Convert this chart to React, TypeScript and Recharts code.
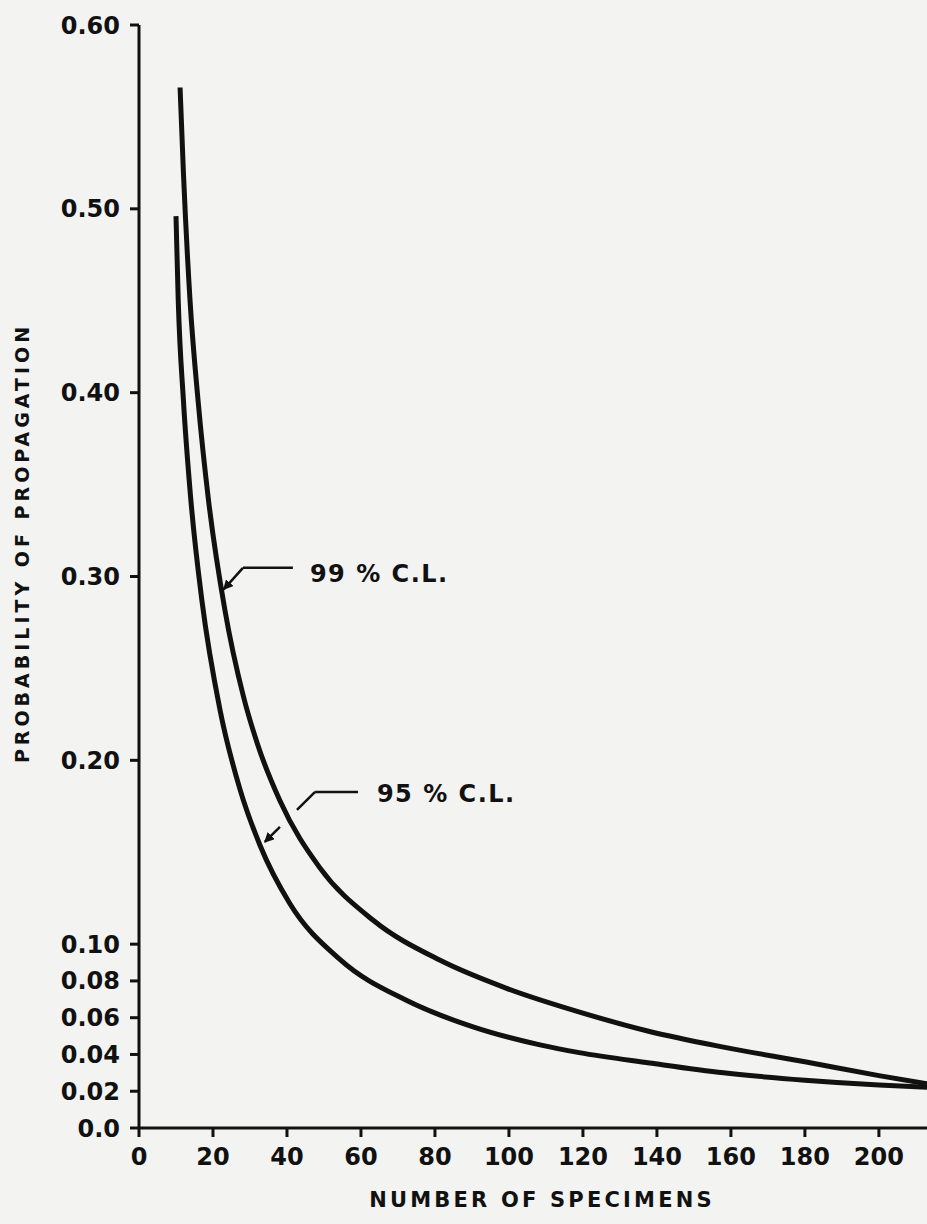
import React from 'react';
import {
  LineChart, Line, XAxis, YAxis, ReferenceLine, ReferenceDot,
} from 'recharts';

// number of specimens / probability
const cl99N = [11.1, 12, 13.8, 16, 18.7, 23.2, 28.2, 32, 38.1, 48.9, 63.3, 81.4, 99.2, 120, 138, 158, 180, 200, 213];
const cl99P = [0.566, 0.52, 0.45, 0.395, 0.343, 0.282, 0.235, 0.209, 0.178, 0.1415, 0.113, 0.0912, 0.0761, 0.0625, 0.0525, 0.044, 0.036, 0.0285, 0.024];

const cl95N = [10, 10.6, 12, 14, 17, 21.9, 27.3, 32.7, 40.8, 54.3, 72.4, 90.3, 108.4, 119, 138, 158, 180, 200, 213];
const cl95P = [0.496, 0.4505, 0.396, 0.342, 0.287, 0.2274, 0.1842, 0.1538, 0.122, 0.0917, 0.0693, 0.055, 0.0452, 0.041, 0.0354, 0.03, 0.026, 0.0234, 0.0222];

const xTicks = [0, 20, 40, 60, 80, 100, 120, 140, 160, 180, 200];
const yTicks = [0, 0.02, 0.04, 0.06, 0.08, 0.1, 0.2, 0.3, 0.4, 0.5, 0.6];

const INK = '#111';
const FONT = '"DejaVu Sans", Verdana, sans-serif';

const data99 = cl99N.map((n, i) => ({ n, p: cl99P[i] }));
const data95 = cl95N.map((n, i) => ({ n, p: cl95P[i] }));

const tickStyle = { fill: INK, fontSize: 24, fontWeight: 700, fontFamily: FONT };

function CalloutText({ viewBox, text }: any) {
  if (!viewBox) return null;
  return (
    <text x={viewBox.x} y={viewBox.y + 9} fill={INK} fontSize={24} fontWeight={700} letterSpacing={1.5} fontFamily={FONT}>
      {text}
    </text>
  );
}

export default function App() {
  return (
    <div style={{ position: 'fixed', inset: 0, background: '#f3f3f1' }}>
      <LineChart
        width={927}
        height={1224}
        margin={{ top: 25, right: 0, bottom: 0, left: 0 }}
      >
        <defs>
          <marker id="arrow" viewBox="0 0 10 10" refX="9" refY="5" markerWidth="4" markerHeight="4" orient="auto">
            <path d="M0,0 L10,5 L0,10 z" fill={INK} />
          </marker>
        </defs>
        <XAxis
          dataKey="n"
          type="number"
          domain={[0, 213]}
          ticks={xTicks}
          allowDataOverflow
          height={96}
          axisLine={{ stroke: INK, strokeWidth: 3 }}
          tickLine={{ stroke: INK, strokeWidth: 3 }}
          tickSize={9}
          tickMargin={11}
          tick={tickStyle}
          label={({ viewBox }: any) => (
            <text
              x={viewBox.x + viewBox.width / 2 + 9}
              y={viewBox.y + 79}
              textAnchor="middle"
              fill={INK}
              fontSize={21}
              fontWeight={700}
              letterSpacing={3.2}
              fontFamily={FONT}
            >
              NUMBER OF SPECIMENS
            </text>
          )}
        />
        <YAxis
          type="number"
          domain={[0, 0.6]}
          ticks={yTicks}
          width={139}
          axisLine={{ stroke: INK, strokeWidth: 3 }}
          tickLine={{ stroke: INK, strokeWidth: 3 }}
          tickSize={9}
          tickMargin={10}
          tick={tickStyle}
          tickFormatter={(v: number) => (v === 0 ? '0.0' : v.toFixed(2))}
          label={() => (
            <text
              x={22}
              y={543}
              transform="rotate(-90 22 543)"
              textAnchor="middle"
              dominantBaseline="central"
              fill={INK}
              fontSize={19}
              fontWeight={700}
              letterSpacing={4}
              fontFamily={FONT}
            >
              PROBABILITY OF PROPAGATION
            </text>
          )}
        />
        <Line data={data99} dataKey="p" type="monotone" stroke={INK} strokeWidth={5} dot={false} isAnimationActive={false} />
        <Line data={data95} dataKey="p" type="monotone" stroke={INK} strokeWidth={5} dot={false} isAnimationActive={false} />

        {/* 99 % C.L. leader */}
        <ReferenceLine segment={[{ x: 41.6, y: 0.3047 }, { x: 28.1, y: 0.3047 }]} stroke={INK} strokeWidth={2.5} />
        <ReferenceLine segment={[{ x: 28.1, y: 0.3047 }, { x: 22.9, y: 0.293 }]} stroke={INK} strokeWidth={2.5} markerEnd="url(#arrow)" />
        <ReferenceDot x={46.2} y={0.302} r={0} label={<CalloutText text="99 % C.L." />} />

        {/* 95 % C.L. leader, crossing the 99 % curve */}
        <ReferenceLine segment={[{ x: 59.2, y: 0.1828 }, { x: 47.6, y: 0.1828 }]} stroke={INK} strokeWidth={2.5} />
        <ReferenceLine segment={[{ x: 47.6, y: 0.1828 }, { x: 42.7, y: 0.173 }]} stroke={INK} strokeWidth={2.5} />
        <ReferenceLine segment={[{ x: 38.1, y: 0.1638 }, { x: 34, y: 0.1556 }]} stroke={INK} strokeWidth={2.5} markerEnd="url(#arrow)" />
        <ReferenceDot x={64.3} y={0.1823} r={0} label={<CalloutText text="95 % C.L." />} />
      </LineChart>
    </div>
  );
}
